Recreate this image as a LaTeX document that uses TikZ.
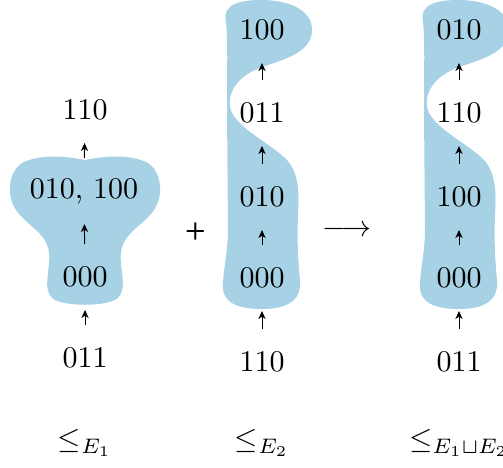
\documentclass[tikz,border=0pt]{standalone}
\usepackage{amsmath, amssymb}
\usepackage{tikz}
\usepackage{xcolor}
\usetikzlibrary{arrows.meta}

\definecolor{blobblue}{RGB}{167,210,229}

\tikzset{
  elt/.style={scale=1.5, inner sep=1pt},
  ord/.style={-{Stealth[length=4pt,width=3.6pt,inset=1.2pt]}, line width=0.5pt,
    shorten <=16.5pt, shorten >=16.5pt},
  blob/.style={fill=blobblue, draw=none},
}

% the two-bay strip used by the 2nd and 3rd order
\newcommand{\stripblob}{%
  \fill[blob] (226,22) .. controls (222,4) and (240,0) .. (262,0)
    .. controls (285,0) and (312,8) .. (312,30)
    .. controls (312,50) and (290,58) .. (265,66)
    .. controls (240,74) and (228,90) .. (230,106)
    .. controls (232,125) and (265,140) .. (285,158)
    .. controls (300,172) and (299,195) .. (298,215)
    .. controls (297,240) and (298,260) .. (300,280)
    .. controls (302,302) and (285,309) .. (262,309)
    .. controls (240,309) and (221,304) .. (223,283)
    .. controls (224,265) and (228,250) .. (228,230)
    -- (227,110)
    .. controls (227,70) and (228,40) .. (226,22) -- cycle;}

\begin{document}
\begin{tikzpicture}[x=0.5pt, y=-0.5pt]
  \useasboundingbox (0,0) rectangle (503,467);

  % First order
  \fill[blob] (85,160) .. controls (105,156) and (128,154) .. (146,162)
    .. controls (162,170) and (164,196) .. (154,210)
    .. controls (143,226) and (124,232) .. (121,252)
    .. controls (119,268) and (128,288) .. (118,298)
    .. controls (108,307) and (62,307) .. (52,298)
    .. controls (42,288) and (51,268) .. (49,252)
    .. controls (46,232) and (27,226) .. (16,210)
    .. controls (6,196) and (8,170) .. (24,162)
    .. controls (42,154) and (65,156) .. (85,160) -- cycle;
  \node[elt] (a1) at (85,110) {110};
  \node[elt] (a2) at (84,191) {010, 100};
  \node[elt] (a3) at (85,277) {000};
  \node[elt] (a4) at (85,358) {011};
  \draw[ord] (a4.center) -- (a3.center);
  \draw[ord] (a3.center) -- (a2.center);
  \draw[ord] (a2.center) -- (a1.center);
  \node[elt] (l1) at (85,443) {$\leq_{E_1}$};

  \node[scale=1.2, font=\sffamily\bfseries] (plus) at (195.5,231) {+};

  % Second order
  \stripblob
  \node[elt] (b1) at (262,30) {100};
  \node[elt] (b2) at (262,113) {011};
  \node[elt] (b3) at (262,197) {010};
  \node[elt] (b4) at (262,278) {000};
  \node[elt] (b5) at (262,362) {110};
  \draw[ord] (b5.center) -- (b4.center);
  \draw[ord] (b4.center) -- (b3.center);
  \draw[ord] (b3.center) -- (b2.center);
  \draw[ord] (b2.center) -- (b1.center);
  \node[elt] (l2) at (262,443) {$\leq_{E_2}$};

  \node[elt] (to) at (347,231) {$\longrightarrow$};

  % Union order
  \begin{scope}[shift={(197,0)}]
    \stripblob
  \end{scope}
  \node[elt] (c1) at (459,30) {010};
  \node[elt] (c2) at (459,113) {110};
  \node[elt] (c3) at (459,197) {100};
  \node[elt] (c4) at (459,278) {000};
  \node[elt] (c5) at (459,362) {011};
  \draw[ord] (c5.center) -- (c4.center);
  \draw[ord] (c4.center) -- (c3.center);
  \draw[ord] (c3.center) -- (c2.center);
  \draw[ord] (c2.center) -- (c1.center);
  \node[elt] (l3) at (459,443) {$\leq_{E_1\sqcup E_2}$};
\end{tikzpicture}
\end{document}
